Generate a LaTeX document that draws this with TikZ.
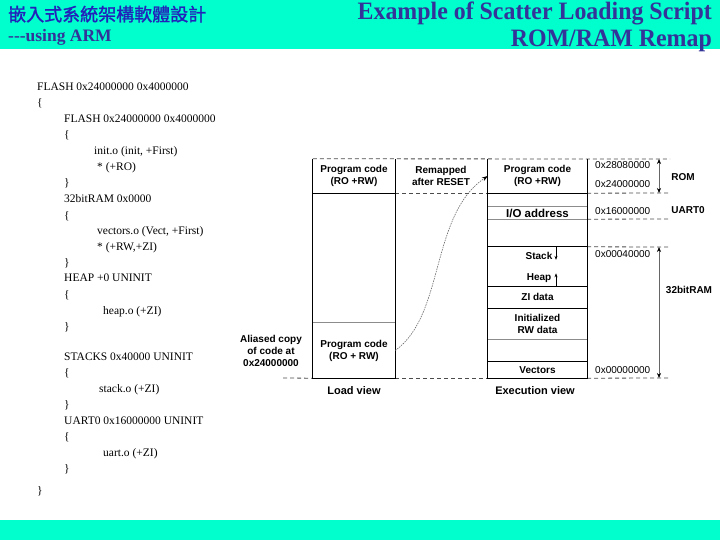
\documentclass[tikz,border=0pt]{standalone}
\usepackage{fontspec}
\usepackage{xcolor}
\usepackage{graphicx}
\setmainfont{Liberation Serif}
\setsansfont{Liberation Sans}
\newfontfamily\cjkfont[FakeBold=1.5]{Noto Sans CJK TC}
\usetikzlibrary{arrows.meta}
\definecolor{bannercyan}{HTML}{00FFCC}
\definecolor{titleblue}{HTML}{333399}
\definecolor{cjkblue}{HTML}{2222BB}
\tikzset{
        code_text/.style={anchor=base west, inner sep=0pt, font=\fontsize{11.5}{14}\selectfont},
        mem_box/.style={draw=none, inner sep=0pt, align=center, font=\sffamily\bfseries\fontsize{10}{12}\selectfont},
        mem_line/.style={line width=0.9pt, draw=black},
        mem_thin/.style={line width=0.8pt, draw=black!45},
        mem_dash/.style={line width=0.8pt, draw=black!70, dash pattern=on 4pt off 3pt},
        addr_text/.style={anchor=west, inner sep=0pt, font=\sffamily\fontsize{10}{12}\selectfont},
        size_text/.style={inner sep=0pt, font=\sffamily\bfseries\fontsize{10}{12}\selectfont},
        view_text/.style={inner sep=0pt, font=\sffamily\bfseries\fontsize{11}{13}\selectfont},
        title_text/.style={anchor=base east, inner sep=0pt, text=titleblue, font=\bfseries\fontsize{25}{28}\selectfont},
        size_arrow/.style={draw=black!60, line width=0.6pt,
                           {Stealth[length=5pt,width=4pt,black]}-{Stealth[length=5pt,width=4pt,black]}},
        grow_arrow/.style={draw=black, line width=0.6pt, -{Stealth[length=4pt,width=3pt]}},
        remap_curve/.style={draw=black!60, line width=0.6pt, dash pattern=on 1.5pt off 1pt,
                            -{Stealth[length=6pt,width=4pt,black]}}
    }

\begin{document}
\begin{tikzpicture}[x=1pt, y=-1pt]
    \useasboundingbox (0,0) rectangle (720,540);
    % banners
    \fill[bannercyan] (0,0) rectangle (720,49);
    \fill[bannercyan] (0,520) rectangle (720,540);
    \node[anchor=base west, inner sep=0pt, text=cjkblue, font=\cjkfont\fontsize{18}{20}\selectfont]
        (cn_title) at (8,21) {嵌入式系統架構軟體設計};
    \node[anchor=base west, inner sep=0pt, text=titleblue, font=\bfseries\fontsize{17.5}{20}\selectfont]
        (arm_title) at (8,42) {{-}{-}{-}using ARM};
    \node[title_text] (main_title) at (712,20) {\scalebox{0.955}[1]{Example of Scatter Loading Script}};
    \node[title_text] (remap_title) at (712,47) {\scalebox{0.955}[1]{ROM/RAM Remap}};

    % scatter loading script
    \node[code_text] (c0) at (37,91) {FLASH 0x24000000 0x4000000};
    \node[code_text] (c1) at (37,107) {\{};
    \node[code_text] (c2) at (64,123) {FLASH 0x24000000 0x4000000};
    \node[code_text] (c3) at (64,139) {\{};
    \node[code_text] (c4) at (94,155) {init.o (init, +First)};
    \node[code_text] (c5) at (97,171) {* (+RO)};
    \node[code_text] (c6) at (64,187) {\}};
    \node[code_text] (c7) at (64,203) {32bitRAM 0x0000};
    \node[code_text] (c8) at (64,219) {\{};
    \node[code_text] (c9) at (97,235) {vectors.o (Vect, +First)};
    \node[code_text] (c10) at (97,250) {* (+RW,+ZI)};
    \node[code_text] (c11) at (64,266) {\}};
    \node[code_text] (c12) at (64,281) {HEAP +0 UNINIT};
    \node[code_text] (c13) at (64,298) {\{};
    \node[code_text] (c14) at (103,314) {heap.o (+ZI)};
    \node[code_text] (c15) at (64,330) {\}};
    \node[code_text] (c16) at (64,360) {STACKS 0x40000 UNINIT};
    \node[code_text] (c17) at (64,376) {\{};
    \node[code_text] (c18) at (99,392) {stack.o (+ZI)};
    \node[code_text] (c19) at (64,408) {\}};
    \node[code_text] (c20) at (64,424) {UART0 0x16000000 UNINIT};
    \node[code_text] (c21) at (64,440) {\{};
    \node[code_text] (c22) at (103,456) {uart.o (+ZI)};
    \node[code_text] (c23) at (64,472) {\}};
    \node[code_text] (c24) at (37,494) {\}};

    % load view
    \node[mem_box, minimum width=82pt, minimum height=34pt] (ld_code) at (354,176) {Program code\\(RO +RW)};
    \node[mem_box, minimum width=82pt, minimum height=55pt] (ld_alias) at (354,350.5) {Program code\\(RO + RW)};
    % execution view
    \node[mem_box, minimum width=99pt, minimum height=34pt] (ex_code) at (537.5,176) {Program code\\(RO +RW)};
    \node[mem_box, minimum width=99pt, minimum height=12pt, font=\sffamily\bfseries\fontsize{11.5}{13}\selectfont]
        (ex_io) at (537.5,213) {I/O address};
    \node[mem_box, minimum width=99pt, minimum height=39pt] (ex_stack) at (537.5,266.5) {};
    \node[mem_box, minimum width=99pt, minimum height=22pt] (ex_zi) at (537.5,297) {ZI data};
    \node[mem_box, minimum width=99pt, minimum height=31pt] (ex_rw) at (537.5,323.5) {Initialized\\RW data};
    \node[mem_box, minimum width=99pt, minimum height=16pt] (ex_vec) at (537.5,370) {Vectors};
    \node[mem_box] (stack_lbl) at (539,256) {Stack};
    \node[mem_box] (heap_lbl) at (539,278) {Heap};

    \coordinate (rom_top) at (670,159);
    \coordinate (rom_bot) at (670,193);
    \coordinate (uart_bot) at (670,219);
    \coordinate (ram_top) at (670,247);
    \coordinate (ram_bot) at (670,378);
    \coordinate (alias_left) at (283,378);
    \coordinate (size_mark) at (659,0);
    \coordinate (grow_mark) at (556,0);

    % dashed address lines
    \draw[mem_dash] (ld_code.north west) -- (rom_top);
    \draw[mem_dash] (ld_code.south east) -- (ex_code.south west);
    \draw[mem_dash] (ex_code.south east) -- (rom_bot);
    \draw[mem_dash] (ex_io.south east) -- (uart_bot);
    \draw[mem_dash] (ex_stack.north east) -- (ram_top);
    \draw[mem_dash] (alias_left) -- (ld_alias.south west);
    \draw[mem_dash] (ld_alias.south east) -- (ex_vec.south west);
    \draw[mem_dash] (ex_vec.south east) -- (ram_bot);

    % box outlines
    \draw[mem_line] (ld_code.north west) -- (ld_alias.south west) -- (ld_alias.south east) -- (ld_code.north east);
    \draw[mem_line] (ld_code.south west) -- (ld_code.south east);
    \draw[mem_thin] (ld_alias.north west) -- (ld_alias.north east);
    \draw[mem_line] (ex_code.north west) -- (ex_vec.south west) -- (ex_vec.south east) -- (ex_code.north east);
    \draw[mem_line] (ex_code.south west) -- (ex_code.south east);
    \draw[mem_thin] (ex_io.north west) -- (ex_io.north east);
    \draw[mem_thin] (ex_io.south west) -- (ex_io.south east);
    \draw[mem_line] (ex_stack.north west) -- (ex_stack.north east);
    \draw[mem_line] (ex_stack.south west) -- (ex_stack.south east);
    \draw[mem_line] (ex_zi.south west) -- (ex_zi.south east);
    \draw[mem_thin] (ex_rw.south west) -- (ex_rw.south east);
    \draw[mem_line] (ex_vec.north west) -- (ex_vec.north east);

    % stack and heap growth
    \draw[grow_arrow] (grow_mark |- ex_stack.north) -- (grow_mark |- stack_lbl.south);
    \draw[grow_arrow] (grow_mark |- ex_stack.south) -- (grow_mark |- heap_lbl.north);

    % remap curve
    \draw[remap_curve] (ld_alias.east) .. controls (445,315) and (430,215) .. (ex_code.west);

    % labels
    \node[mem_box] (remap_lbl) at (441,176) {Remapped\\after RESET};
    \node[mem_box] (alias_lbl) at (271,351) {Aliased copy\\of code at\\0x24000000};
    \node[view_text] (load_lbl) at (354,391) {Load view};
    \node[view_text] (exec_lbl) at (535,391) {Execution view};

    \node[addr_text] (addr_a) at (595,165) {0x28080000};
    \node[addr_text] (addr_b) at (595,184) {0x24000000};
    \node[addr_text] (addr_c) at (595,211) {0x16000000};
    \node[addr_text] (addr_d) at (595,254) {0x00040000};
    \node[addr_text] (addr_e) at (595,370) {0x00000000};

    \draw[size_arrow] (size_mark |- rom_top) -- (size_mark |- rom_bot);
    \draw[size_arrow] (size_mark |- ram_top) -- (size_mark |- ram_bot);
    \node[size_text] (rom_lbl) at (683,177) {ROM};
    \node[size_text] (uart_lbl) at (688,210) {UART0};
    \node[size_text] (ram_lbl) at (689,290) {32bitRAM};
\end{tikzpicture}
\end{document}
